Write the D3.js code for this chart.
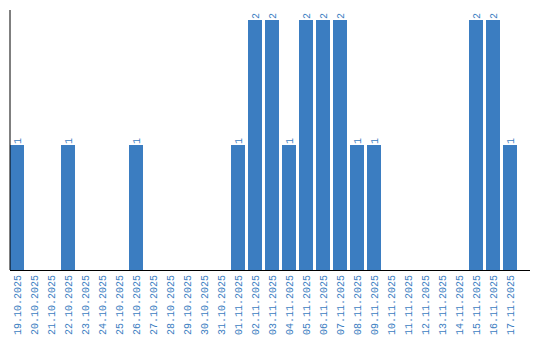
<!DOCTYPE html>
<html>
<head>
<meta charset="utf-8">
<script src="https://cdn.jsdelivr.net/npm/d3@7"></script>
<style>
  body { margin: 0; background: #fff; }
  svg text { font-family: "Liberation Mono", monospace; font-size: 10px; fill: #3b7dc1; }
</style>
</head>
<body>
<div id="chart"></div>
<script>
var dates = ["19.10.2025","20.10.2025","21.10.2025","22.10.2025","23.10.2025","24.10.2025",
  "25.10.2025","26.10.2025","27.10.2025","28.10.2025","29.10.2025","30.10.2025","31.10.2025",
  "01.11.2025","02.11.2025","03.11.2025","04.11.2025","05.11.2025","06.11.2025","07.11.2025",
  "08.11.2025","09.11.2025","10.11.2025","11.11.2025","12.11.2025","13.11.2025","14.11.2025",
  "15.11.2025","16.11.2025","17.11.2025"];
var counts = [1,0,0,1,0,0,0,1,0,0,0,0,0,1,2,2,1,2,2,2,1,1,0,0,0,0,0,2,2,1];

var width = 540, height = 340;
var barColor = "#3b7dc1";

var svg = d3.select("#chart").append("svg")
  .attr("width", width)
  .attr("height", height);

var x = d3.scaleBand()
  .domain(dates)
  .range([10, 517])
  .paddingInner(3 / 17)
  .paddingOuter(0);

var y = d3.scaleLinear()
  .domain([0, 2])
  .range([270, 20]);

// bars
svg.selectAll("rect.bar")
  .data(dates.map(function(d, i) { return { date: d, value: counts[i] }; }))
  .enter().filter(function(d) { return d.value > 0; })
  .append("rect")
  .attr("class", "bar")
  .attr("x", function(d) { return x(d.date); })
  .attr("y", function(d) { return y(d.value); })
  .attr("width", x.bandwidth())
  .attr("height", function(d) { return y(0) - y(d.value); })
  .style("fill", barColor);

// value labels
dates.forEach(function(d, i) {
  if (!counts[i]) return;
  var cx = x(d) + x.bandwidth() / 2;
  var ty = y(counts[i]) - 1;
  svg.append("text")
    .attr("transform", "translate(" + (cx + 3.5) + "," + ty + ") rotate(-90)")
    .attr("text-anchor", "start")
    .text(counts[i]);
});

// axes lines
svg.append("line")
  .attr("x1", 10).attr("x2", 10)
  .attr("y1", 10).attr("y2", 270)
  .style("stroke", "#000").style("stroke-width", 1);

var xAxis = d3.axisBottom(x).tickSize(0).tickPadding(0);
var gx = svg.append("g")
  .attr("transform", "translate(0,270)")
  .call(xAxis);
gx.select(".domain").attr("d", "M10,0.5H530").style("stroke", "#000");
gx.selectAll("text")
  .attr("transform", "translate(3.5,5) rotate(-90)")
  .attr("text-anchor", "end")
  .attr("x", 0).attr("y", 0).attr("dy", 0)
  .style("font-family", "Liberation Mono, monospace")
  .style("font-size", "10px")
  .style("fill", barColor);
</script>
</body>
</html>
